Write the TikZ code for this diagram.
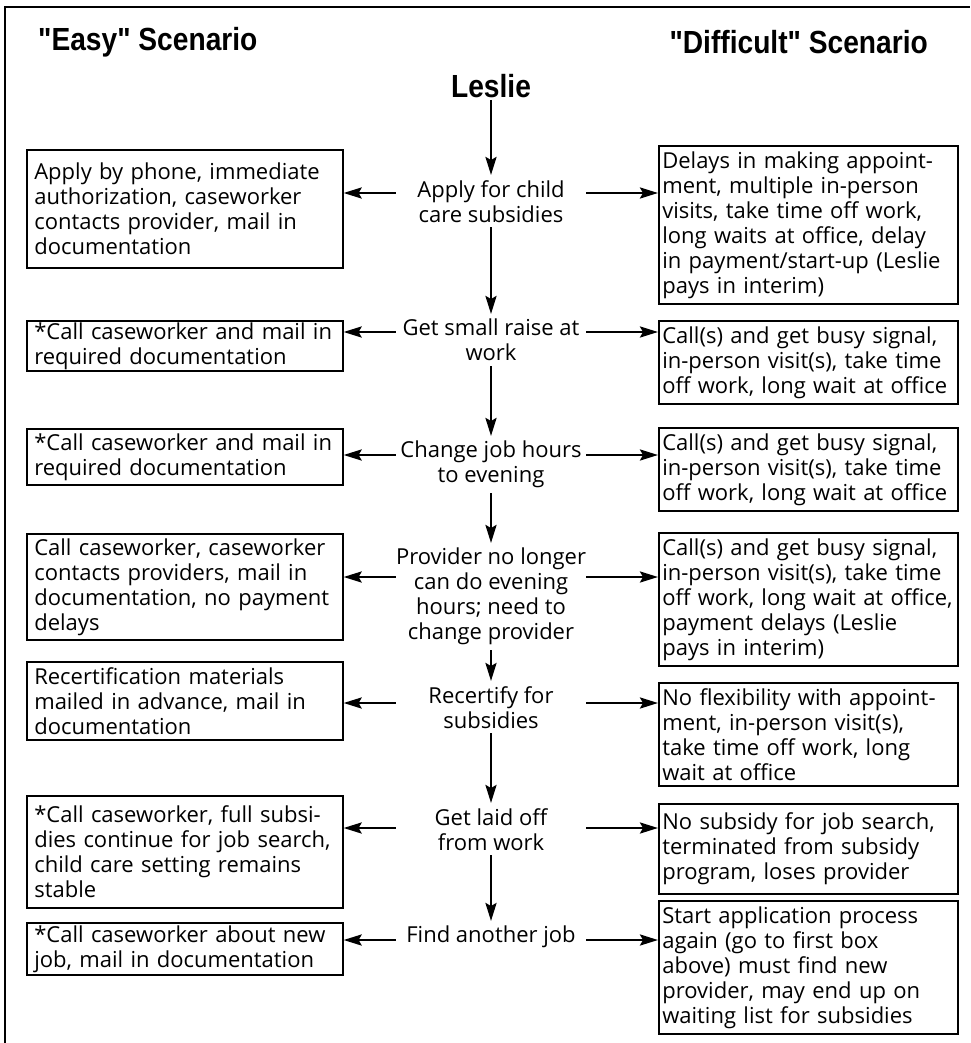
\documentclass[tikz,border=0pt]{standalone}
\usepackage{fontspec}
\setmainfont{Open Sans}
\newfontfamily\headfont[FakeStretch=0.88]{Liberation Sans}
\usetikzlibrary{arrows.meta}
\tikzstyle{head} = [font=\headfont\bfseries\fontsize{32}{36}\selectfont, inner sep=2pt]
\tikzstyle{easybox} = [draw, line width=1.6pt, anchor=north west, text width=301pt, inner xsep=7.5pt, inner ysep=0pt, align=left, font=\fontsize{22}{25}\selectfont]
\tikzstyle{hardbox} = [easybox, text width=292pt, inner xsep=3.5pt]
\tikzstyle{event} = [anchor=north, minimum width=190pt, inner xsep=0pt, inner ysep=5pt, align=center, font=\fontsize{22}{25}\selectfont]
\tikzstyle{arrow} = [line width=2.6pt,->,>={Stealth[length=18pt,width=11pt,inset=3pt]}]

\begin{document}
\begin{tikzpicture}[x=1pt,y=-1pt]
\useasboundingbox (0,0) rectangle (970,1043);
\draw[line width=2.5pt] (5,1043)--(5,7)--(970,7);

\node[head,anchor=west] (easyhead) at (36,42) {"Easy" Scenario};
\node[head,anchor=east] (hardhead) at (930,42) {"Difficult" Scenario};
\node[head] (leslie) at (491,86) {Leslie};

% middle column
\node[event] (apply) at (491,175) {Apply for child\\care subsidies};
\node[event] (raise) at (491,314) {Get small raise at\\work};
\node[event] (change) at (491,436) {Change job hours\\to evening};
\node[event] (provider) at (491,543) {Provider no longer\\can do evening\\hours; need to\\change provider};
\node[event] (recert) at (491,681) {Recertify for\\subsidies};
\node[event] (laidoff) at (491,803) {Get laid off\\from work};
\node[event] (find) at (491,921) {Find another job};

% easy side
\node[easybox,minimum height=118pt] (easy1) at (26,149) {Apply by phone, immediate\\authorization, caseworker\\contacts provider, mail in\\documentation};
\node[easybox,minimum height=50pt] (easy2) at (26,320) {*Call caseworker and mail in\\required documentation};
\node[easybox,minimum height=56pt] (easy3) at (26,428) {*Call caseworker and mail in\\required documentation};
\node[easybox,minimum height=106pt] (easy4) at (26,533) {Call caseworker, caseworker\\contacts providers, mail in\\documentation, no payment\\delays};
\node[easybox,minimum height=78pt] (easy5) at (26,661) {Recertification materials\\mailed in advance, mail in\\documentation};
\node[easybox,minimum height=112pt] (easy6) at (26,795) {*Call caseworker, full subsi-\\dies continue for job search,\\child care setting remains\\stable};
\node[easybox,minimum height=52pt] (easy7) at (26,922) {*Call caseworker about new\\job, mail in documentation};

% difficult side
\node[hardbox,minimum height=158pt] (hard1) at (658,145) {Delays in making appoint-\\ment, multiple in-person\\visits, take time off work,\\long waits at office, delay\\in payment/start-up (Leslie\\pays in interim)};
\node[hardbox,minimum height=83pt] (hard2) at (658,320) {Call(s) and get busy signal,\\in-person visit(s), take time\\off work, long wait at office};
\node[hardbox,minimum height=83pt] (hard3) at (658,427) {Call(s) and get busy signal,\\in-person visit(s), take time\\off work, long wait at office};
\node[hardbox,minimum height=133pt] (hard4) at (658,532) {Call(s) and get busy signal,\\in-person visit(s), take time\\off work, long wait at office,\\payment delays (Leslie\\pays in interim)};
\node[hardbox,minimum height=103pt] (hard5) at (658,682) {No flexibility with appoint-\\ment, in-person visit(s),\\take time off work, long\\wait at office};
\node[hardbox,minimum height=90pt] (hard6) at (658,803) {No subsidy for job search,\\terminated from subsidy\\program, loses provider};
\node[hardbox,minimum height=133pt] (hard7) at (658,900) {Start application process\\again (go to first box\\above) must find new\\provider, may end up on\\waiting list for subsidies};

\foreach \a/\b in {leslie/apply,apply/raise,raise/change,change/provider,provider/recert,recert/laidoff,laidoff/find}
	\draw[arrow] (\a) -- (\b);
\foreach \s/\l/\r/\d in {apply/easy1/hard1/18,raise/easy2/hard2/18,change/easy3/hard3/19,provider/easy4/hard4/34,recert/easy5/hard5/22,laidoff/easy6/hard6/25,find/easy7/hard7/19}{
	\draw[arrow] ([yshift=-\d pt]\s.north west) -- ([yshift=-\d pt]\s.north west -| \l.east);
	\draw[arrow] ([yshift=-\d pt]\s.north east) -- ([yshift=-\d pt]\s.north east -| \r.west);}
\end{tikzpicture}
\end{document}
